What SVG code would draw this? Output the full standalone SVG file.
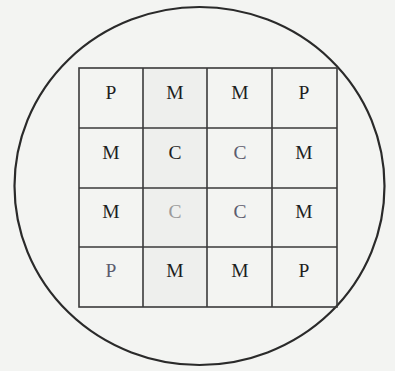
<svg xmlns="http://www.w3.org/2000/svg" width="395" height="371" viewBox="0 0 395 371">
<style>
.cell{fill:none;stroke:#3a3a3a;stroke-width:1.6}
.t{font-family:"Liberation Serif","Times New Roman",serif;font-size:19.5px;fill:#1e1e1e;text-anchor:middle}
.g{fill:#5c5c6e}
.lg{fill:#9a9a9a}
</style>
<rect width="395" height="371" fill="#f3f4f2"/>
<rect x="143" y="68" width="64" height="239" fill="#eeefed"/>
<ellipse id="boundary" cx="199.5" cy="186" rx="185" ry="179" fill="none" stroke="#2a2a2a" stroke-width="2.2"/>
<g id="grid">
<rect class="cell" x="79" y="68" width="258" height="239"/>
<line class="cell" x1="143" y1="68" x2="143" y2="307"/>
<line class="cell" x1="207" y1="68" x2="207" y2="307"/>
<line class="cell" x1="272" y1="68" x2="272" y2="307"/>
<line class="cell" x1="79" y1="128" x2="337" y2="128"/>
<line class="cell" x1="79" y1="188" x2="337" y2="188"/>
<line class="cell" x1="79" y1="247" x2="337" y2="247"/>
</g>
<g id="r1"><text class="t" x="111" y="99">P</text><text class="t" x="175" y="99">M</text><text class="t" x="240" y="99">M</text><text class="t" x="304" y="99">P</text></g>
<g id="r2"><text class="t" x="111" y="159">M</text><text class="t" x="175" y="159">C</text><text class="t g" x="240" y="159">C</text><text class="t" x="304" y="159">M</text></g>
<g id="r3"><text class="t" x="111" y="218">M</text><text class="t lg" x="175" y="218">C</text><text class="t g" x="240" y="218">C</text><text class="t" x="304" y="218">M</text></g>
<g id="r4"><text class="t g" x="111" y="277">P</text><text class="t" x="175" y="277">M</text><text class="t" x="240" y="277">M</text><text class="t" x="304" y="277">P</text></g>
</svg>
